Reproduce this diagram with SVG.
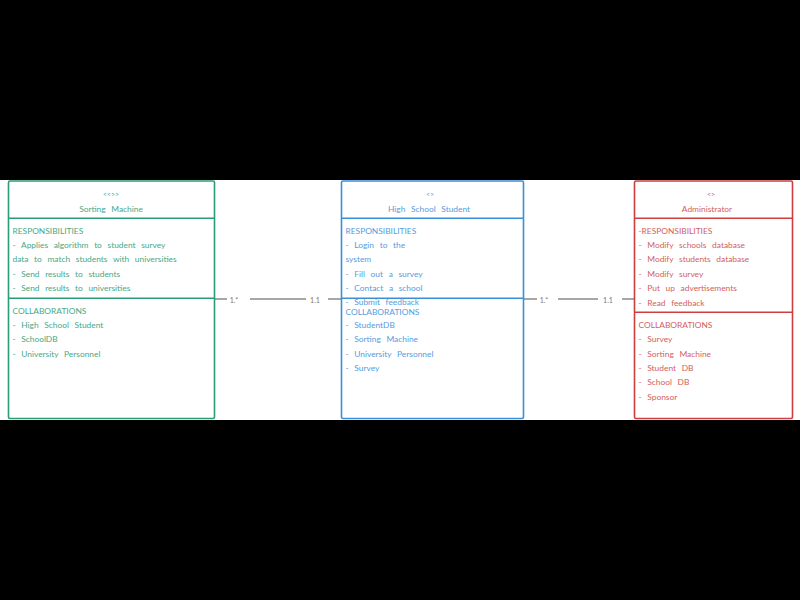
<svg xmlns="http://www.w3.org/2000/svg" width="800" height="600" viewBox="0 0 800 600">
<style>
text{font-family:Lato,"Open Sans","Liberation Sans",sans-serif;font-size:8.4px;dominant-baseline:central;word-spacing:3.5px}
.box{fill:#fff;stroke-width:1.6}
.div{stroke-width:1.6}
.g{fill:#47a886}.gs{stroke:#2a9d78}
.b{fill:#559cde}.bs{stroke:#3a8fd9}
.r{fill:#d25e5e}.rs{stroke:#cf3e3e}
.mid{text-anchor:middle}
.conn line{stroke:#8a8a8a;stroke-width:1.5}
.lbl{fill:#777;font-size:7px;text-anchor:middle}
</style>
<rect x="0" y="0" width="800" height="600" fill="#000"/>
<rect x="0" y="180" width="800" height="240" fill="#fff"/>
<g id="connectors" class="conn">
<line x1="215" y1="299" x2="227" y2="299"/>
<line x1="250" y1="299" x2="306" y2="299"/>
<line x1="328" y1="299" x2="341" y2="299"/>
<text class="lbl" x="234" y="300">1.*</text>
<text class="lbl" x="315" y="300">1.1</text>
<line x1="524" y1="299" x2="537" y2="299"/>
<line x1="558" y1="299" x2="598" y2="299"/>
<line x1="622" y1="299" x2="634" y2="299"/>
<text class="lbl" x="544" y="300">1.*</text>
<text class="lbl" x="608" y="300">1.1</text>
</g>
<g id="sorting-machine">
<rect class="box gs" x="8.5" y="181" width="206" height="237.5" rx="1.5"/>
<line class="div gs" x1="8.5" y1="218.3" x2="214.5" y2="218.3"/>
<line class="div gs" x1="8.5" y1="298.3" x2="214.5" y2="298.3"/>
<text class="g mid" x="111" y="194" style="font-size:7px">&lt;&lt;&gt;&gt;</text>
<text class="g mid" x="111" y="208.5">Sorting  Machine</text>
<text class="g" x="12.5" y="230.7">RESPONSIBILITIES</text>
<text class="g" x="12.5" y="245">- Applies  algorithm  to student  survey</text>
<text class="g" x="12.5" y="259.3">data to match students  with universities</text>
<text class="g" x="12.5" y="273.7">- Send results  to students</text>
<text class="g" x="12.5" y="288.3">- Send results  to universities</text>
<text class="g" x="12.5" y="311">COLLABORATIONS</text>
<text class="g" x="12.5" y="325">- High School Student</text>
<text class="g" x="12.5" y="339.3">- SchoolDB</text>
<text class="g" x="12.5" y="354">- University    Personnel</text>
</g>
<g id="high-school-student">
<rect class="box bs" x="341.5" y="181" width="182" height="237.5" rx="1.5"/>
<line class="div bs" x1="341.5" y1="218.3" x2="523.5" y2="218.3"/>
<line class="div bs" x1="341.5" y1="298.3" x2="523.5" y2="298.3"/>
<text class="b mid" x="430" y="194" style="font-size:7px">&lt;&gt;</text>
<text class="b mid" x="429" y="208.5">High School Student</text>
<text class="b" x="345.5" y="230.7">RESPONSIBILITIES</text>
<text class="b" x="345.5" y="245">- Login to the</text>
<text class="b" x="345.5" y="259.3">system</text>
<text class="b" x="345.5" y="273.7">- Fill out a survey</text>
<text class="b" x="345.5" y="288">- Contact  a school</text>
<text class="b" x="345.5" y="302.2">- Submit  feedback</text>
<text class="b" x="345.5" y="311.5">COLLABORATIONS</text>
<text class="b" x="345.5" y="325">- StudentDB</text>
<text class="b" x="345.5" y="339.3">- Sorting  Machine</text>
<text class="b" x="345.5" y="354">- University    Personnel</text>
<text class="b" x="345.5" y="368.3">- Survey</text>
</g>
<g id="administrator">
<rect class="box rs" x="634.5" y="181" width="158" height="237.5" rx="1.5"/>
<line class="div rs" x1="634.5" y1="218.3" x2="792.5" y2="218.3"/>
<line class="div rs" x1="634.5" y1="312.3" x2="792.5" y2="312.3"/>
<text class="r mid" x="711" y="194" style="font-size:7px">&lt;&gt;</text>
<text class="r mid" x="707" y="208.5">Administrator</text>
<text class="r" x="638.5" y="230.7">-RESPONSIBILITIES</text>
<text class="r" x="638.5" y="245">- Modify  schools  database</text>
<text class="r" x="638.5" y="259.3">- Modify  students  database</text>
<text class="r" x="638.5" y="273.7">- Modify  survey</text>
<text class="r" x="638.5" y="288">- Put up advertisements</text>
<text class="r" x="638.5" y="302.7">- Read feedback</text>
<text class="r" x="638.5" y="325">COLLABORATIONS</text>
<text class="r" x="638.5" y="339.3">- Survey</text>
<text class="r" x="638.5" y="353.7">- Sorting  Machine</text>
<text class="r" x="638.5" y="368">- Student  DB</text>
<text class="r" x="638.5" y="382.3">- School  DB</text>
<text class="r" x="638.5" y="397">- Sponsor</text>
</g>
</svg>
